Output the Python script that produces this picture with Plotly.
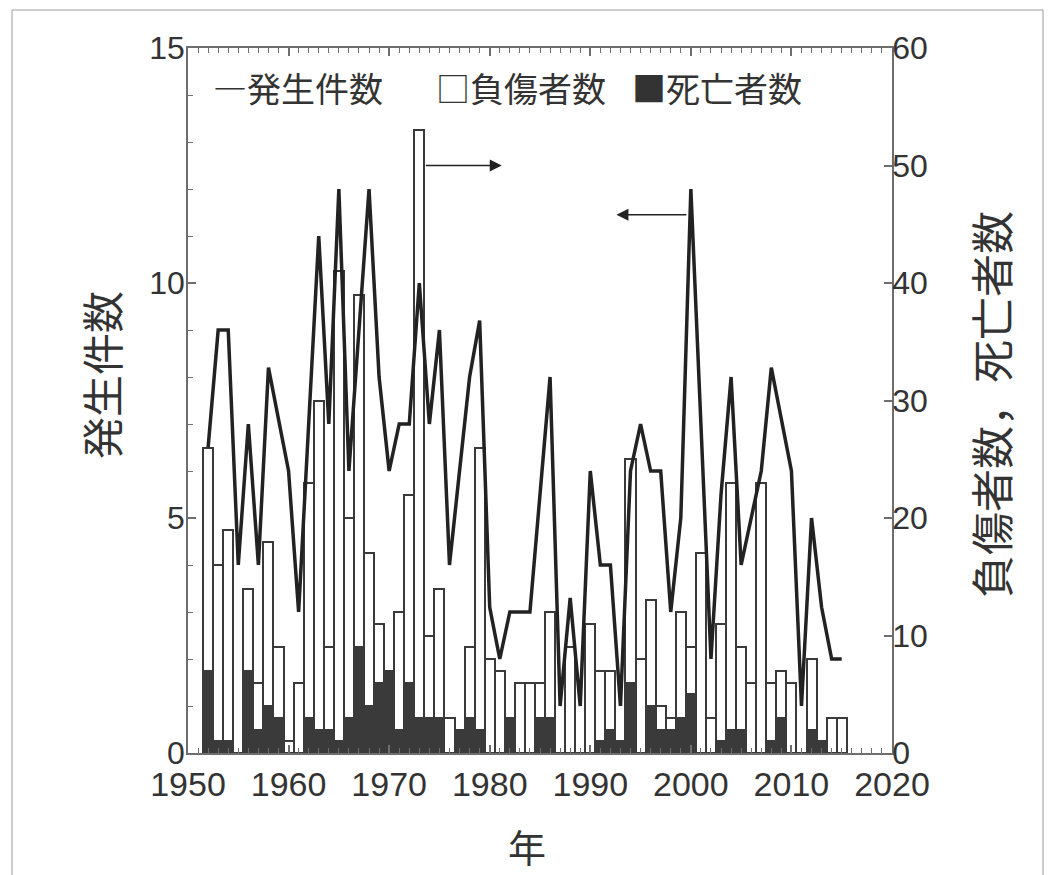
import plotly.graph_objects as go

# ---------------- data ----------------
years = list(range(1952, 2016))

occurrences = [6.5, 9, 9, 4, 7, 4, 8.2, 7.1, 6, 3,
               7, 11, 7, 12, 6, 9, 12, 8, 6, 7,
               7, 10, 7, 9, 4, 6, 8, 9.2, 3.1, 2,
               3, 3, 3, 5.5, 8, 1, 3.3, 1, 6, 4,
               4, 1, 6, 7, 6, 6, 3, 5, 12, 7,
               2, 5.5, 8, 4, 5, 6, 8.2, 7.1, 6, 1,
               5, 3.1, 2, 2]

injured = [26, 16, 19, 0, 14, 6, 18, 9, 1, 6,
           23, 30, 9, 41, 20, 39, 17, 11, 6, 12,
           22, 53, 10, 14, 3, 2, 9, 26, 8, 7,
           3, 6, 6, 6, 12, 0, 9, 0, 11, 7,
           7, 1, 25, 8, 13, 4, 3, 12, 9, 17,
           3, 11, 23, 9, 6, 23, 6, 7, 6, 0,
           8, 1, 3, 3]

deaths = [7, 1, 1, 0, 7, 2, 4, 3, 0, 0,
          3, 2, 2, 1, 3, 9, 4, 6, 7, 2,
          6, 3, 3, 3, 0, 2, 3, 2, 0, 0,
          3, 0, 0, 3, 3, 0, 0, 0, 0, 1,
          2, 1, 6, 0, 4, 2, 2, 3, 5, 0,
          0, 1, 2, 2, 0, 0, 1, 3, 0, 0,
          2, 1, 0, 0]

x_ticks = [1950, 1960, 1970, 1980, 1990, 2000, 2010, 2020]
left_ticks = [0, 5, 10, 15]
right_ticks = [0, 10, 20, 30, 40, 50, 60]

legend_items = ["―発生件数", "□負傷者数", "■死亡者数"]
left_title = "発生件数"
right_title = "負傷者数，死亡者数"
x_title = "年"

# ---------------- style ----------------
DARK = "#3a3a3a"
AXIS = "#6e6e6e"
TXT = "#333333"
NUMFONT = "Liberation Sans, Arial, sans-serif"
CJKFONT = "Noto Sans CJK JP, sans-serif"

OFF = 8  # default body margin of the html page
W, H = 1045, 867
L, T = 180, 40
pw, ph = 704, 705
R = W - L - pw
B = H - T - ph


def px_x(px):
    # page pixel -> paper coordinate
    return (px - OFF - L) / pw


def px_y(py):
    return (H - B - (py - OFF)) / ph


fig = go.Figure()

# bars -> right-hand axis (primary y), drawn first
fig.add_trace(go.Bar(
    x=years, y=injured, width=1.0,
    marker=dict(color="white", line=dict(color=DARK, width=2)),
    yaxis="y", showlegend=False, hoverinfo="skip"))
fig.add_trace(go.Bar(
    x=years, y=deaths, width=1.0,
    marker=dict(color=DARK, line=dict(color=DARK, width=2)),
    yaxis="y", showlegend=False, hoverinfo="skip"))

# line -> left-hand axis (overlaying y2, drawn on top)
fig.add_trace(go.Scatter(
    x=years, y=occurrences, mode="lines",
    line=dict(color="#222222", width=3.5),
    yaxis="y2", showlegend=False, hoverinfo="skip"))

axis_common = dict(
    showgrid=False, zeroline=False, showline=True,
    linecolor=AXIS, linewidth=1.5,
    ticks="inside", tickcolor=AXIS, tickwidth=1.5,
)

fig.update_layout(
    width=W, height=H,
    margin=dict(l=L, r=R, t=T, b=B, pad=0, autoexpand=False),
    paper_bgcolor="white", plot_bgcolor="white",
    barmode="overlay",
    bargap=0,
    xaxis=dict(
        range=[1950, 2020], tickvals=x_ticks, ticklen=8,
        mirror="ticks", ticklabelstandoff=0,
        tickfont=dict(family=NUMFONT, size=34, color=TXT),
        minor=dict(dtick=1, tick0=1950, ticks="inside", ticklen=5,
                   tickcolor=AXIS, tickwidth=1.2),
        **axis_common),
    yaxis=dict(
        side="right", range=[0, 60], tickvals=right_ticks, ticklen=8,
        ticklabelstandoff=-8,
        tickfont=dict(family=NUMFONT, size=32, color=TXT),
        **axis_common),
    yaxis2=dict(
        side="left", overlaying="y", range=[0, 15], tickvals=left_ticks,
        ticklen=8, ticklabelstandoff=-5,
        tickfont=dict(family=NUMFONT, size=32, color=TXT),
        minor=dict(dtick=1, tick0=0, ticks="inside", ticklen=5,
                   tickcolor=AXIS, tickwidth=1.2),
        **axis_common),
)

annotations = []
# legend (as text)
leg_x = [211, 434, 630]
for txt, xx in zip(legend_items, leg_x):
    annotations.append(dict(
        xref="paper", yref="paper", x=px_x(xx), y=px_y(88),
        xanchor="left", yanchor="middle", showarrow=False,
        text=txt, font=dict(family=CJKFONT, size=34, color=TXT)))

# axis titles
annotations.append(dict(
    xref="paper", yref="paper", x=px_x(100), y=px_y(375),
    xanchor="center", yanchor="middle", showarrow=False, textangle=-90,
    text=left_title, font=dict(family=CJKFONT, size=42, color=TXT)))
annotations.append(dict(
    xref="paper", yref="paper", x=px_x(990), y=px_y(405),
    xanchor="center", yanchor="middle", showarrow=False, textangle=-90,
    text=right_title, font=dict(family=CJKFONT, size=43, color=TXT)))
annotations.append(dict(
    xref="paper", yref="paper", x=px_x(527), y=px_y(845),
    xanchor="center", yanchor="middle", showarrow=False,
    text=x_title, font=dict(family=CJKFONT, size=38, color=TXT)))

# arrows: bars -> right axis, line -> left axis
annotations.append(dict(
    xref="x", yref="y", x=1981.2, y=50, axref="x", ayref="y",
    ax=1973.5, ay=50, showarrow=True, arrowhead=2, arrowsize=1.6,
    arrowwidth=1.5, arrowcolor="#222222", text=""))
annotations.append(dict(
    xref="x", yref="y2", x=1992.6, y=11.45, axref="x", ayref="y2",
    ax=1999.7, ay=11.45, showarrow=True, arrowhead=2, arrowsize=1.6,
    arrowwidth=1.5, arrowcolor="#222222", text=""))

fig.update_layout(annotations=annotations)

# thin frame around the whole figure
fig.add_shape(type="rect", xref="paper", yref="paper",
              x0=px_x(12), x1=px_x(1043), y0=px_y(900), y1=px_y(10),
              line=dict(color="#9a9a9a", width=1), layer="below")

fig.write_html("out.html")
